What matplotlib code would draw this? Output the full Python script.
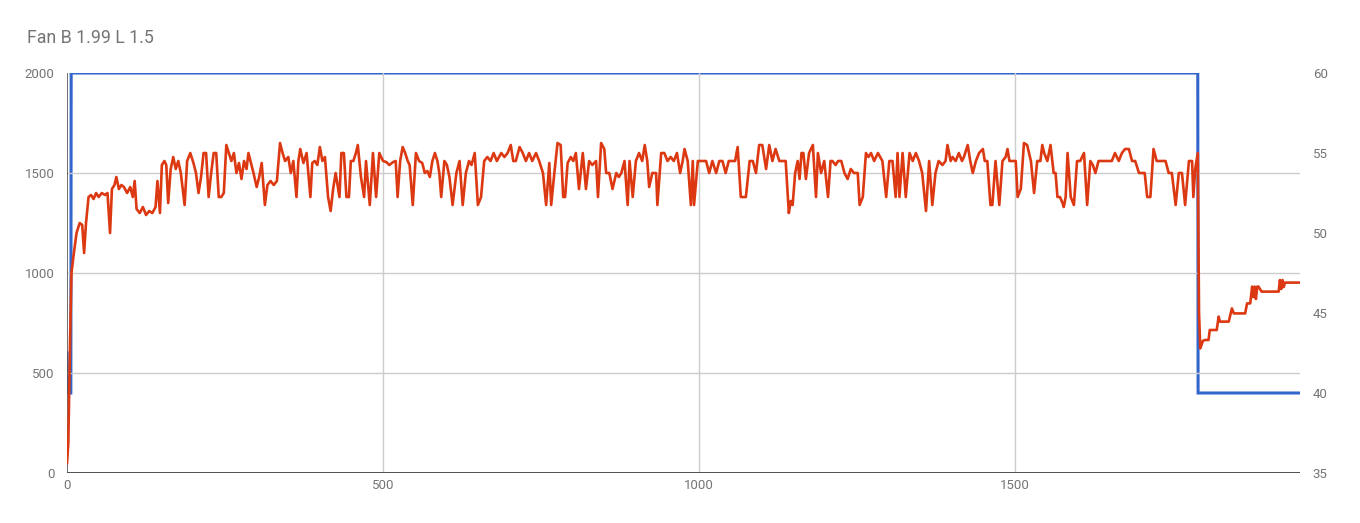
import matplotlib
matplotlib.use("Agg")
import matplotlib.pyplot as plt

plt.rcParams['font.family'] = ['Roboto', 'DejaVu Sans']

TITLE = "Fan B 1.99 L 1.5"

# red series (left axis, 0-2000)
red_t = [0, 2, 5, 7, 10, 15, 20, 24, 27, 30, 34, 38, 42, 46, 50, 55, 60, 64, 68, 71,
         75, 78, 82, 86, 90, 95, 100, 104, 107, 110, 115, 120, 125, 130, 135, 140, 143, 147, 150, 154,
         157, 160, 164, 168, 172, 176, 180, 186, 190, 195, 200, 204, 208, 212, 216, 220, 224, 228, 232, 236,
         240, 244, 248, 252, 256, 260, 264, 268, 272, 276, 280, 284, 287, 291, 295, 300, 304, 308, 313, 317,
         322, 327, 332, 337, 341, 345, 350, 354, 358, 363, 366, 369, 374, 379, 385, 388, 392, 396, 400, 404,
         408, 413, 417, 421, 425, 431, 434, 438, 442, 446, 449, 453, 457, 460, 465, 470, 473, 479, 484, 489,
         494, 500, 505, 510, 516, 520, 523, 527, 531, 535, 539, 542, 547, 552, 557, 562, 566, 570, 574, 578,
         582, 586, 589, 592, 597, 601, 605, 610, 616, 621, 626, 631, 636, 640, 645, 650, 655, 660, 665, 670,
         675, 680, 687, 692, 697, 702, 706, 710, 716, 721, 726, 731, 736, 742, 747, 753, 758, 763, 766, 771,
         776, 781, 785, 788, 792, 797, 801, 805, 810, 816, 821, 826, 831, 837, 840, 845, 850, 853, 858, 863,
         869, 873, 877, 882, 887, 890, 895, 900, 905, 910, 914, 918, 921, 926, 932, 934, 940, 945, 950, 955,
         960, 965, 970, 974, 977, 982, 987, 990, 992, 998, 1005, 1011, 1016, 1021, 1027, 1032, 1037, 1042, 1047, 1053,
         1057, 1061, 1066, 1070, 1074, 1080, 1085, 1090, 1095, 1100, 1106, 1111, 1116, 1121, 1127, 1132, 1137, 1142, 1145, 1148,
         1152, 1156, 1159, 1162, 1165, 1169, 1174, 1180, 1185, 1188, 1193, 1198, 1204, 1208, 1211, 1216, 1220, 1225, 1230, 1235,
         1240, 1245, 1251, 1254, 1259, 1264, 1268, 1272, 1277, 1283, 1290, 1296, 1301, 1306, 1311, 1314, 1317, 1322, 1327, 1333,
         1338, 1343, 1348, 1353, 1359, 1364, 1369, 1374, 1379, 1385, 1390, 1393, 1398, 1401, 1406, 1411, 1416, 1419, 1425, 1429,
         1433, 1438, 1443, 1449, 1452, 1456, 1461, 1464, 1469, 1475, 1480, 1485, 1488, 1491, 1496, 1501, 1504, 1509, 1514, 1519,
         1525, 1530, 1535, 1540, 1543, 1546, 1551, 1556, 1561, 1564, 1567, 1571, 1575, 1577, 1580, 1583, 1588, 1593, 1598, 1603,
         1609, 1614, 1619, 1623, 1627, 1632, 1637, 1642, 1648, 1653, 1658, 1664, 1669, 1674, 1680, 1685, 1690, 1696, 1701, 1705,
         1709, 1714, 1719, 1724, 1729, 1734, 1738, 1743, 1748, 1754, 1759, 1764, 1769, 1775, 1780, 1782, 1785, 1789,
         1791, 1793, 1797, 1800, 1806, 1808, 1819, 1822, 1824, 1838, 1843, 1846, 1864, 1867, 1872, 1875, 1877, 1879, 1881, 1883,
         1885, 1890, 1917, 1919, 1921, 1923, 1925, 1927, 1951]
red_v = [50, 150, 700, 1000, 1080, 1200, 1250, 1240, 1100, 1250, 1380, 1390, 1370, 1400, 1380, 1400, 1390, 1400, 1200, 1420,
         1440, 1480, 1420, 1440, 1430, 1400, 1430, 1380, 1460, 1320, 1300, 1330, 1290, 1310, 1300, 1330, 1460, 1300, 1540, 1560,
         1540, 1350, 1520, 1580, 1520, 1560, 1500, 1340, 1560, 1600, 1550, 1500, 1400, 1480, 1600, 1600, 1380, 1500, 1600, 1600,
         1380, 1380, 1400, 1640, 1600, 1560, 1600, 1500, 1550, 1470, 1560, 1520, 1600, 1550, 1500, 1430, 1480, 1550, 1340, 1440,
         1460, 1440, 1460, 1650, 1600, 1560, 1580, 1500, 1560, 1380, 1560, 1620, 1550, 1600, 1380, 1550, 1560, 1540, 1630, 1560,
         1580, 1380, 1310, 1420, 1500, 1380, 1600, 1600, 1380, 1380, 1560, 1560, 1600, 1640, 1480, 1380, 1560, 1340, 1600, 1380,
         1600, 1560, 1555, 1540, 1555, 1560, 1380, 1560, 1630, 1600, 1560, 1540, 1340, 1600, 1560, 1550, 1500, 1510, 1480, 1560,
         1600, 1560, 1500, 1380, 1560, 1540, 1480, 1340, 1500, 1560, 1340, 1500, 1560, 1540, 1600, 1340, 1380, 1560, 1580, 1560,
         1600, 1560, 1600, 1580, 1600, 1640, 1560, 1560, 1630, 1600, 1560, 1600, 1560, 1600, 1560, 1500, 1340, 1550, 1340, 1500,
         1650, 1640, 1380, 1380, 1550, 1580, 1560, 1600, 1420, 1600, 1420, 1560, 1540, 1560, 1380, 1650, 1620, 1500, 1500, 1420,
         1500, 1480, 1500, 1560, 1340, 1560, 1380, 1560, 1600, 1560, 1640, 1560, 1430, 1500, 1500, 1340, 1600, 1600, 1560, 1580,
         1560, 1600, 1500, 1560, 1620, 1560, 1340, 1560, 1340, 1560, 1560, 1560, 1500, 1560, 1500, 1560, 1560, 1500, 1560, 1560,
         1560, 1630, 1380, 1380, 1380, 1560, 1560, 1500, 1640, 1640, 1520, 1640, 1560, 1620, 1560, 1560, 1560, 1300, 1360, 1340,
         1500, 1560, 1470, 1600, 1600, 1470, 1600, 1640, 1380, 1600, 1500, 1560, 1380, 1560, 1560, 1540, 1560, 1560, 1500, 1470,
         1520, 1500, 1500, 1340, 1380, 1600, 1580, 1600, 1560, 1600, 1560, 1380, 1560, 1560, 1380, 1600, 1380, 1600, 1380, 1600,
         1560, 1600, 1560, 1500, 1310, 1560, 1340, 1500, 1560, 1540, 1560, 1640, 1560, 1580, 1560, 1600, 1560, 1580, 1640, 1560,
         1500, 1560, 1600, 1620, 1560, 1560, 1340, 1340, 1560, 1340, 1560, 1580, 1620, 1560, 1560, 1560, 1380, 1420, 1650, 1640,
         1560, 1400, 1560, 1560, 1640, 1600, 1560, 1640, 1500, 1500, 1380, 1380, 1350, 1330, 1380, 1600, 1380, 1340, 1560, 1560,
         1600, 1340, 1560, 1540, 1500, 1560, 1560, 1560, 1560, 1560, 1600, 1560, 1600, 1620, 1620, 1560, 1560, 1500, 1500, 1500,
         1380, 1380, 1620, 1560, 1560, 1560, 1560, 1500, 1500, 1340, 1500, 1500, 1340, 1560, 1560, 1380, 1520, 1600,
         800, 623, 660, 665, 665, 715, 715, 782, 757, 757, 823, 798, 798, 848, 848, 932, 880, 932, 870, 932,
         932, 907, 907, 965, 920, 965, 930, 952, 952]

# blue series (right axis, 35-60)
blue_t = [0, 1, 6, 6.5, 1789, 1789.5, 1951]
blue_v = [42.5, 40, 40, 60, 60, 40, 40]

left_ticks = [0, 500, 1000, 1500, 2000]
right_ticks = [35, 40, 45, 50, 55, 60]
x_ticks = [0, 500, 1000, 1500]

GREY = '#757575'
fig = plt.figure(figsize=(13.6, 5.23), dpi=100)
ax = fig.add_axes([0.0493, 0.0956, 0.9067, 0.7648])
ax2 = ax.twinx()

ax2.plot(blue_t, blue_v, color='#3366cc', lw=2.2, solid_joinstyle='miter')
ax.plot(red_t, red_v, color='#dc3912', lw=1.9)

# red above blue
ax.set_zorder(ax2.get_zorder() + 1)
ax.patch.set_visible(False)

ax.set_xlim(0, 1951)
ax.set_ylim(0, 2000)
ax2.set_ylim(35, 60)
ax.set_xticks(x_ticks)
ax.set_yticks(left_ticks)
ax2.set_yticks(right_ticks)

for v in left_ticks[1:-1]:
    ax.axhline(v, color='#cccccc', lw=1, zorder=0)
for v in x_ticks[1:]:
    ax.axvline(v, color='#cccccc', lw=1, zorder=0)

for a in (ax, ax2):
    for s in ('top', 'right', 'left', 'bottom'):
        a.spines[s].set_visible(False)
ax.axhline(0, color='#333333', lw=1.2, zorder=1)
ax.axvline(0, color='#555555', lw=1.2, zorder=1)

ax.tick_params(axis='y', length=0, pad=9, labelsize=9.5, labelcolor=GREY)
ax.tick_params(axis='x', length=0, pad=4, labelsize=9.5, labelcolor=GREY)
ax2.tick_params(axis='y', length=0, pad=9, labelsize=9.5, labelcolor=GREY)

fig.text(0.0199, 0.927, TITLE, fontsize=12.8, color=GREY, va='center', ha='left')

fig.savefig("out.png", dpi=100)
